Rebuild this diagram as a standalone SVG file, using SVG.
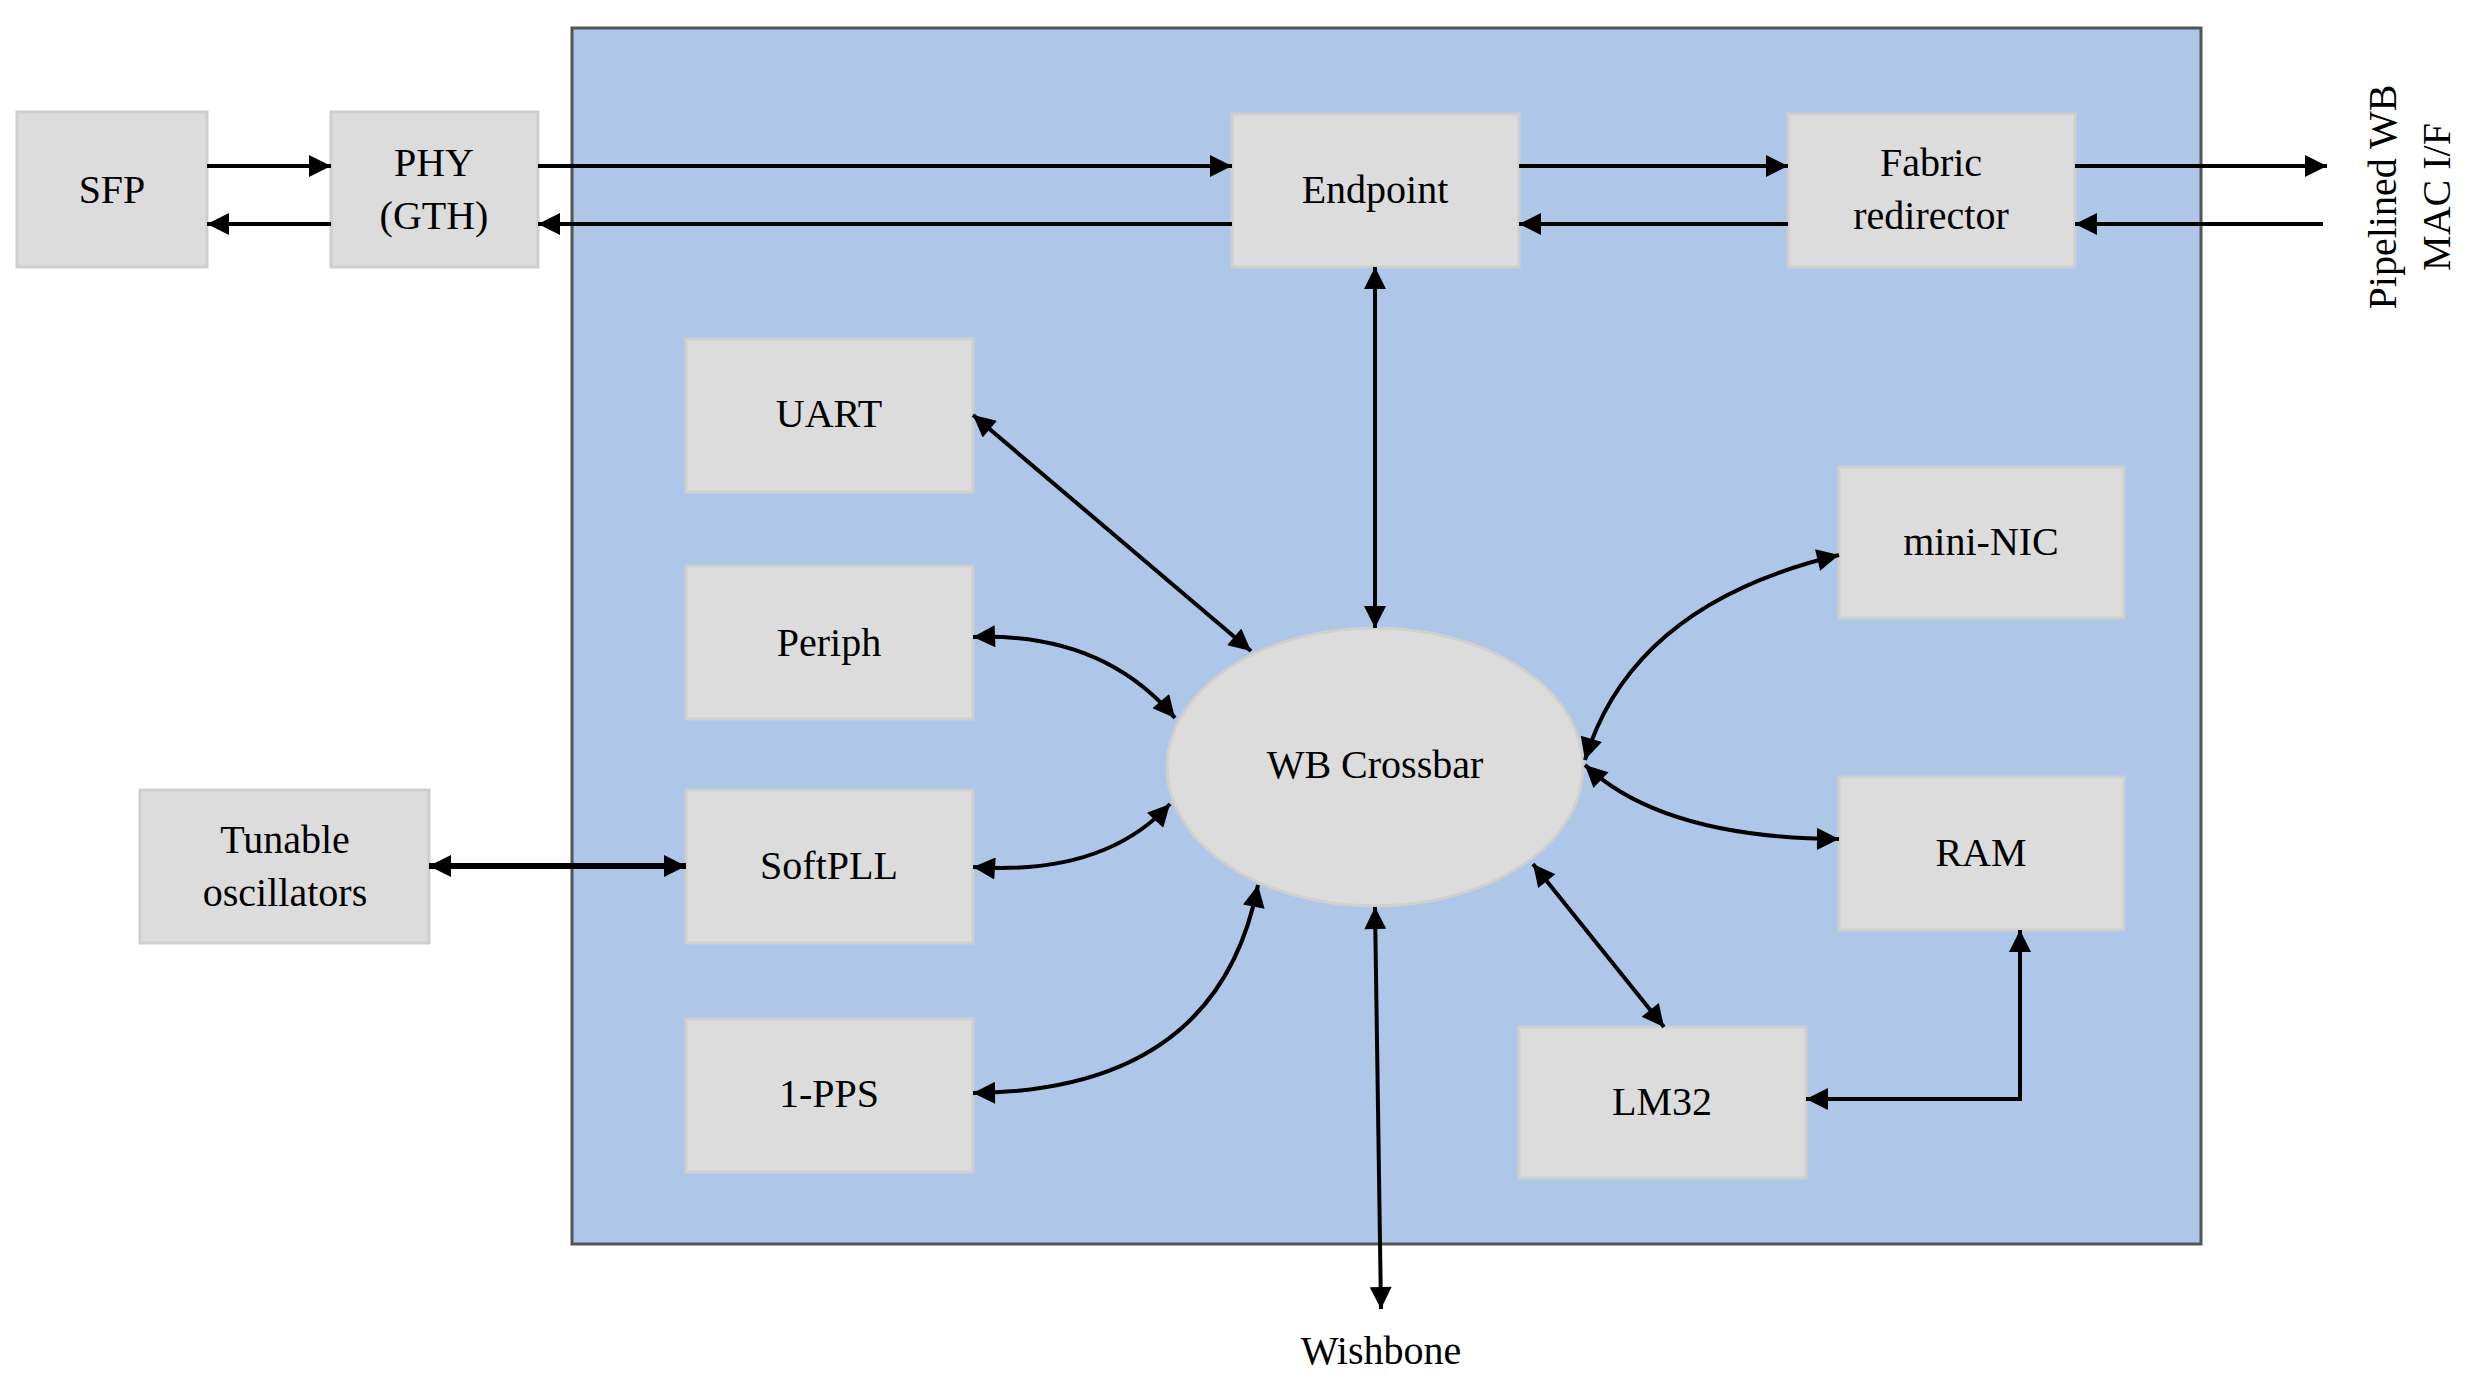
<svg xmlns="http://www.w3.org/2000/svg" width="2473" height="1387" viewBox="0 0 2473 1387">
<style>
.box{fill:#dcdcdc;stroke:#cfcfcf;stroke-width:3}
.t{font-family:"Liberation Serif",serif;font-size:40px;fill:#000;text-anchor:middle}
.c{fill:none;stroke:#000;stroke-width:4}
.ct{fill:none;stroke:#000;stroke-width:6}
</style>
<defs>
<marker id="a" viewBox="0 0 10 10" refX="10" refY="5" markerWidth="26" markerHeight="22" markerUnits="userSpaceOnUse" orient="auto-start-reverse"><path d="M0,0 L10,5 L0,10 z" fill="#000"/></marker>
</defs>
<rect width="2473" height="1387" fill="#fff"/>
<rect id="fpga" x="572" y="28" width="1629" height="1216" fill="#aec6e8" stroke="#555" stroke-width="3"/>
<g id="sfp"><rect class="box" x="17" y="112" width="190" height="155"/><text class="t" x="112" y="203">SFP</text></g>
<g id="phy"><rect class="box" x="331" y="112" width="207" height="155"/><text class="t" x="434" y="176">PHY</text><text class="t" x="434" y="229">(GTH)</text></g>
<g id="endpoint"><rect class="box" x="1232" y="114" width="287" height="153"/><text class="t" x="1375" y="203">Endpoint</text></g>
<g id="fabric"><rect class="box" x="1788" y="114" width="287" height="153"/><text class="t" x="1931" y="176">Fabric</text><text class="t" x="1931" y="229">redirector</text></g>
<g id="uart"><rect class="box" x="686" y="339" width="287" height="153"/><text class="t" x="829" y="427">UART</text></g>
<g id="periph"><rect class="box" x="686" y="566" width="287" height="153"/><text class="t" x="829" y="656">Periph</text></g>
<g id="softpll"><rect class="box" x="686" y="790" width="287" height="153"/><text class="t" x="829" y="879">SoftPLL</text></g>
<g id="pps"><rect class="box" x="686" y="1019" width="287" height="153"/><text class="t" x="829" y="1107">1-PPS</text></g>
<g id="tunable"><rect class="box" x="140" y="790" width="289" height="153"/><text class="t" x="285" y="853">Tunable</text><text class="t" x="285" y="906">oscillators</text></g>
<g id="mininic"><rect class="box" x="1839" y="467" width="285" height="151"/><text class="t" x="1981" y="555">mini-NIC</text></g>
<g id="ram"><rect class="box" x="1839" y="777" width="285" height="153"/><text class="t" x="1981" y="866">RAM</text></g>
<g id="lm32"><rect class="box" x="1519" y="1027" width="287" height="151"/><text class="t" x="1662" y="1115">LM32</text></g>
<g id="crossbar"><ellipse cx="1375" cy="767" rx="208" ry="139" fill="#dcdcdc" stroke="#d0d0d0" stroke-width="3"/><text class="t" x="1375" y="778">WB Crossbar</text></g>
<g id="labels">
<text class="t" x="1381" y="1364">Wishbone</text>
<text class="t" transform="translate(2396,197) rotate(-90)">Pipelined WB</text>
<text class="t" transform="translate(2450,197) rotate(-90)">MAC I/F</text>
</g>
<g id="connectors">
<path class="c" d="M207,166 H331" marker-end="url(#a)"/>
<path class="c" d="M331,224 H207" marker-end="url(#a)"/>
<path class="c" d="M538,166 H1232" marker-end="url(#a)"/>
<path class="c" d="M1232,224 H538" marker-end="url(#a)"/>
<path class="c" d="M1519,166 H1788" marker-end="url(#a)"/>
<path class="c" d="M1788,224 H1519" marker-end="url(#a)"/>
<path class="c" d="M2075,166 H2327" marker-end="url(#a)"/>
<path class="c" d="M2323,224 H2075" marker-end="url(#a)"/>
<path class="c" d="M1375,267 V628" marker-start="url(#a)" marker-end="url(#a)"/>
<path class="c" d="M973,415 L1251,651" marker-start="url(#a)" marker-end="url(#a)"/>
<path class="c" d="M973,637 Q1102,632 1175,718" marker-start="url(#a)" marker-end="url(#a)"/>
<path class="c" d="M973,867 Q1104,876 1170,804" marker-start="url(#a)" marker-end="url(#a)"/>
<path class="c" d="M973,1093 Q1218,1091 1258,885" marker-start="url(#a)" marker-end="url(#a)"/>
<path class="c" d="M1375,907 L1381,1309" marker-start="url(#a)" marker-end="url(#a)"/>
<path class="c" d="M1533,864 L1664,1027" marker-start="url(#a)" marker-end="url(#a)"/>
<path class="c" d="M1585,760 Q1632,604 1839,555" marker-start="url(#a)" marker-end="url(#a)"/>
<path class="c" d="M1585,765 Q1662,838 1839,839" marker-start="url(#a)" marker-end="url(#a)"/>
<path class="c" d="M1806,1099 H2020 V930" marker-start="url(#a)" marker-end="url(#a)"/>
<path class="ct" d="M429,866 H686" marker-start="url(#a)" marker-end="url(#a)"/>
</g>
</svg>
